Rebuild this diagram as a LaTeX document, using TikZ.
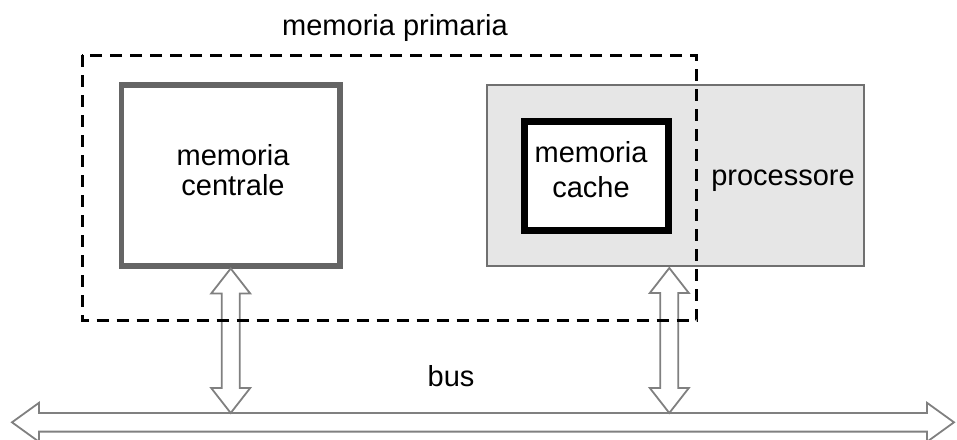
\documentclass[tikz,border=0pt]{standalone}
\usepackage{fontspec}
\setmainfont{Liberation Sans}
\usetikzlibrary{calc}
\definecolor{procfill}{HTML}{E6E6E6}
\definecolor{procline}{HTML}{707070}
\definecolor{centline}{HTML}{656565}
\definecolor{arrline}{HTML}{808080}
\tikzset{
  lbl/.style={font=\fontsize{29}{30}\selectfont, inner sep=0pt, anchor=base, align=center},
  dblarrow/.style={draw=arrline, line width=1.8pt, line join=miter},
}
\begin{document}
\begin{tikzpicture}[x=1pt,y=-1pt]
\useasboundingbox (0,0) rectangle (957,439);
% processor box
\draw[fill=procfill, draw=procline, line width=2pt] (486.7,85.3) coordinate (procNW) rectangle (864,266) coordinate (procSE);
% cache box
\draw[fill=white, draw=black, line width=7pt] (524.2,121.2) coordinate (cacheNW) rectangle (668.5,230.5) coordinate (cacheSE);
% central memory box
\draw[fill=white, draw=centline, line width=5.5pt] (121.5,85) coordinate (centNW) rectangle (340,266) coordinate (centSE);
% labels
\node[lbl] (tprim) at (395,35) {memoria primaria};
\node[lbl] (tcent) at (233,195) {memoria\\centrale};
\node[lbl, font=\fontsize{29}{35}\selectfont] (tcache) at (591,197) {memoria\\cache};
\node[lbl] (tproc) at (783,185) {processore};
\node[lbl] (tbus) at (451,386) {bus};
% bus coordinates
\coordinate (busL) at (12,422.3);
\coordinate (busR) at (954,422.3);
% vertical arrow end points
\coordinate (a1t) at (230.7,268.5);
\coordinate (a1b) at (230.7,413);
\coordinate (a2t) at (669.3,268);
\coordinate (a2b) at (669.3,413);
% vertical double arrows
\foreach \t/\b in {a1t/a1b, a2t/a2b}{
  \draw[dblarrow] (\t) -- ($(\t)+(19.5,25)$) -- ($(\t)+(9,25)$) -- ($(\b)+(9,-25)$) -- ($(\b)+(19.5,-25)$) -- (\b)
    -- ($(\b)+(-19.5,-25)$) -- ($(\b)+(-9,-25)$) -- ($(\t)+(-9,25)$) -- ($(\t)+(-19.5,25)$) -- cycle;
}
% bus double arrow
\draw[dblarrow] (busL) -- ($(busL)+(27,-19.5)$) -- ($(busL)+(27,-9.3)$) -- ($(busR)+(-27,-9.3)$) -- ($(busR)+(-27,-19.5)$) -- (busR)
  -- ($(busR)+(-27,19.5)$) -- ($(busR)+(-27,9.3)$) -- ($(busL)+(27,9.3)$) -- ($(busL)+(27,19.5)$) -- cycle;
% dashed primary memory boundary
\draw[line width=3pt, dash pattern=on 12pt off 8pt] (82,55.3) rectangle (696.7,320.7);
\end{tikzpicture}
\end{document}
